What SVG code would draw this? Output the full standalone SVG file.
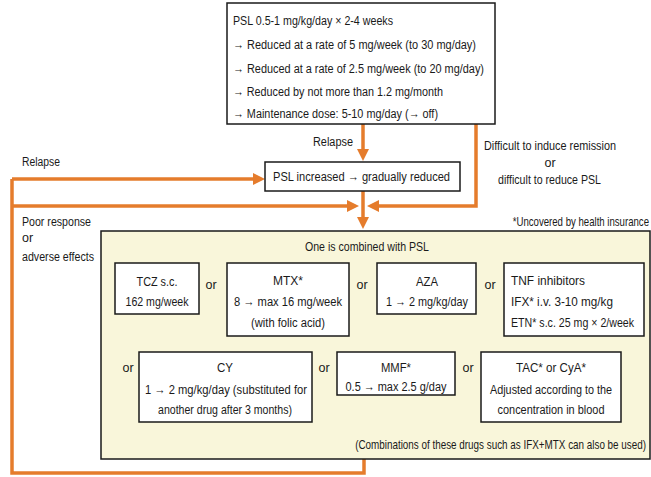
<svg xmlns="http://www.w3.org/2000/svg" width="651" height="477" viewBox="0 0 651 477">
<style>
text{font-family:"Liberation Sans",Arial,sans-serif;font-size:12.5px;fill:#1a1a1a}
.c{text-anchor:middle}
.e{text-anchor:end}
.box{fill:#fff;stroke:#1a1a1a;stroke-width:1.5}
.main{fill:#f9f6da;stroke:#1a1a1a;stroke-width:1.5}
.ln{fill:none;stroke:#e57c2c;stroke-width:3.5}
.ah{fill:#e57c2c}
</style>
<rect width="651" height="477" fill="#fff"/>
<g id="connectors">
<path class="ln" d="M363 124V150"/>
<polygon class="ah" points="357,149 369,149 363,161"/>
<path class="ln" d="M476 124V206H378"/>
<polygon class="ah" points="379,200 379,212 367,206"/>
<path class="ln" d="M12 179H254"/>
<polygon class="ah" points="253,173 253,185 265,179"/>
<path class="ln" d="M12 206H348"/>
<polygon class="ah" points="347,200 347,212 359,206"/>
<path class="ln" d="M363 191V219"/>
<polygon class="ah" points="357,217 369,217 363,229"/>
<path class="ln" d="M364 459V473H12V179"/>
</g>
<g id="labels">
<text x="313" y="146" textLength="40" lengthAdjust="spacingAndGlyphs">Relapse</text>
<text x="22" y="166" textLength="38" lengthAdjust="spacingAndGlyphs">Relapse</text>
<text x="484" y="150" textLength="132" lengthAdjust="spacingAndGlyphs">Difficult to induce remission</text>
<text x="550" y="167" class="c">or</text>
<text x="498" y="184" textLength="103" lengthAdjust="spacingAndGlyphs">difficult to reduce PSL</text>
<text x="22" y="226" textLength="69" lengthAdjust="spacingAndGlyphs">Poor response</text>
<text x="22" y="242">or</text>
<text x="22" y="261" textLength="72" lengthAdjust="spacingAndGlyphs">adverse effects</text>
<text class="e" transform="translate(649,226) scale(0.77,1)">*Uncovered by health insurance</text>
</g>
<g id="node-start">
<rect class="box" x="227" y="3" width="268" height="121"/>
<text x="233" y="25" textLength="160" lengthAdjust="spacingAndGlyphs">PSL 0.5-1 mg/kg/day × 2-4 weeks</text>
<text x="233" y="49" textLength="243" lengthAdjust="spacingAndGlyphs">→ Reduced at a rate of 5 mg/week (to 30 mg/day)</text>
<text x="233" y="73" textLength="251" lengthAdjust="spacingAndGlyphs">→ Reduced at a rate of 2.5 mg/week (to 20 mg/day)</text>
<text x="233" y="96" textLength="210" lengthAdjust="spacingAndGlyphs">→ Reduced by not more than 1.2 mg/month</text>
<text x="233" y="118" textLength="205" lengthAdjust="spacingAndGlyphs">→ Maintenance dose: 5-10 mg/day (→ off)</text>
</g>
<g id="node-increase">
<rect class="box" x="265" y="162" width="195" height="29"/>
<text x="273" y="181" textLength="177" lengthAdjust="spacingAndGlyphs">PSL increased → gradually reduced</text>
</g>
<g id="node-combined">
<rect class="main" x="101" y="231" width="549" height="228"/>
<text x="367" y="251" class="c" textLength="124" lengthAdjust="spacingAndGlyphs">One is combined with PSL</text>
<text x="211" y="289" class="c">or</text>
<text x="362" y="289" class="c">or</text>
<text x="490" y="289" class="c">or</text>
<text x="128" y="372" class="c">or</text>
<text x="324" y="372" class="c">or</text>
<text x="468" y="372" class="c">or</text>
<text class="e" transform="translate(646,449) scale(0.79,1)">(Combinations of these drugs such as IFX+MTX can also be used)</text>
</g>
<g id="node-tcz">
<rect class="box" x="115" y="263" width="84" height="51"/>
<text x="157" y="286" class="c" textLength="41" lengthAdjust="spacingAndGlyphs">TCZ s.c.</text>
<text x="157" y="306" class="c" textLength="63" lengthAdjust="spacingAndGlyphs">162 mg/week</text>
</g>
<g id="node-mtx">
<rect class="box" x="227" y="263" width="122" height="73"/>
<text x="288" y="285" class="c" textLength="30" lengthAdjust="spacingAndGlyphs">MTX*</text>
<text x="288" y="306" class="c" textLength="108" lengthAdjust="spacingAndGlyphs">8 → max 16 mg/week</text>
<text x="288" y="327" class="c" textLength="74" lengthAdjust="spacingAndGlyphs">(with folic acid)</text>
</g>
<g id="node-aza">
<rect class="box" x="377" y="263" width="99" height="51"/>
<text x="427" y="286" class="c" textLength="22" lengthAdjust="spacingAndGlyphs">AZA</text>
<text x="427" y="306" class="c" textLength="82" lengthAdjust="spacingAndGlyphs">1 → 2 mg/kg/day</text>
</g>
<g id="node-tnf">
<rect class="box" x="504" y="263" width="140" height="73"/>
<text x="511" y="285" textLength="74" lengthAdjust="spacingAndGlyphs">TNF inhibitors</text>
<text x="511" y="306" textLength="102" lengthAdjust="spacingAndGlyphs">IFX* i.v. 3-10 mg/kg</text>
<text transform="translate(511,327) scale(0.85,1)">ETN* s.c. 25 mg × 2/week</text>
</g>
<g id="node-cy">
<rect class="box" x="139" y="352" width="173" height="70"/>
<text x="225" y="372" class="c" textLength="16" lengthAdjust="spacingAndGlyphs">CY</text>
<text x="226" y="394" class="c" textLength="162" lengthAdjust="spacingAndGlyphs">1 → 2 mg/kg/day (substituted for</text>
<text x="225" y="414" class="c" textLength="134" lengthAdjust="spacingAndGlyphs">another drug after 3 months)</text>
</g>
<g id="node-mmf">
<rect class="box" x="337" y="352" width="118" height="43"/>
<text x="396" y="372" class="c" textLength="30" lengthAdjust="spacingAndGlyphs">MMF*</text>
<text x="396" y="391" class="c" textLength="101" lengthAdjust="spacingAndGlyphs">0.5 → max 2.5 g/day</text>
</g>
<g id="node-tac">
<rect class="box" x="481" y="352" width="140" height="70"/>
<text x="551" y="372" class="c" textLength="70" lengthAdjust="spacingAndGlyphs">TAC* or CyA*</text>
<text x="551" y="394" class="c" textLength="122" lengthAdjust="spacingAndGlyphs">Adjusted according to the</text>
<text x="551" y="414" class="c" textLength="107" lengthAdjust="spacingAndGlyphs">concentration in blood</text>
</g>
</svg>
